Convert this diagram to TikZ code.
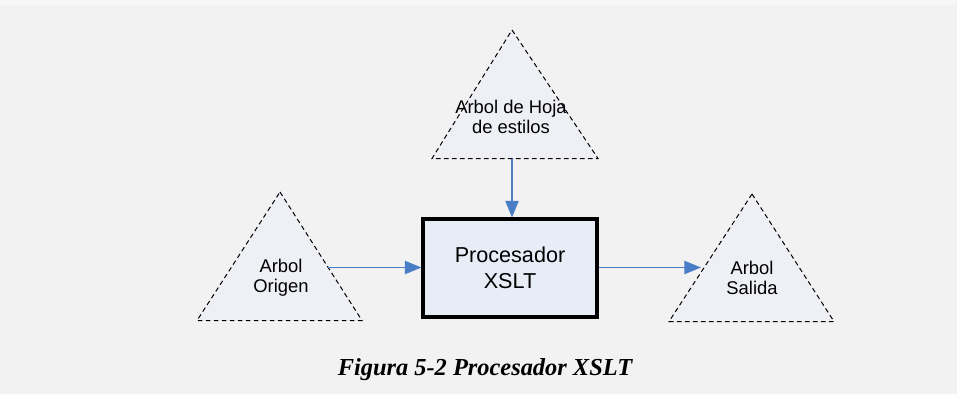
\documentclass[tikz,border=0pt]{standalone}
\usepackage{fontspec}
\setmainfont{Liberation Sans}
\newfontfamily\capfont{Liberation Serif}
\usetikzlibrary{arrows.meta}
\definecolor{pagebg}{HTML}{F2F2F2}
\definecolor{pageedge}{HTML}{F7F7F7}
\definecolor{treefill}{HTML}{EEF0F6}
\definecolor{procfill}{HTML}{E7EDF7}
\definecolor{flowblue}{HTML}{4A7EC6}
\tikzset{
  tree/.style={draw=black, fill=treefill, dashed, dash pattern=on 3.5pt off 2.5pt, line width=0.75pt, line join=miter},
  treelabel/.style={align=center, font=\fontsize{13.8}{15}\selectfont, inner sep=0pt},
  procbox/.style={draw=black, fill=procfill, line width=2.3pt, minimum width=130.5pt, minimum height=73.5pt, inner sep=0pt, align=center, font=\fontsize{16.2}{19.5}\selectfont},
  flow/.style={draw=flowblue, line width=1pt, -{Triangle[length=12.5pt, width=10pt]}}
}
\begin{document}
\begin{tikzpicture}[x=0.75pt, y=-0.75pt]
  % page background
  \useasboundingbox (0,0) rectangle (957,394);
  \fill[pageedge] (0,0) rectangle (957,394);
  \fill[pagebg] (0,5) rectangle (957,394);

  % trees (triangles)
  \draw[tree] (512,30) -- (598,158.5) -- (432,158.5) -- cycle;
  \draw[tree] (280,192) -- (362,320.5) -- (197,320.5) -- cycle;
  \draw[tree] (752,194) -- (834,321.5) -- (669,321.5) -- cycle;

  \node[treelabel] (hoja) at (511,117) {Arbol de Hoja\\de estilos};
  \node[treelabel] (origen) at (281,278) {Arbol\\Origen};
  \node[treelabel] (salida) at (752,278) {Arbol\\Salida};

  % processor box
  \node[procbox] (proc) at (510,268) {Procesador\\XSLT};

  % connector end points on the triangle edges
  \coordinate (hojabase) at (512,158.5);
  \coordinate (origenedge) at (328,267.5);
  \coordinate (salidaedge) at (701,267.5);

  \draw[flow] (hojabase) -- (hojabase |- proc.north);
  \draw[flow] (origenedge) -- (origenedge -| proc.west);
  \draw[flow] (proc.east |- salidaedge) -- (salidaedge);

  % caption
  \node[font=\capfont\bfseries\itshape\fontsize{18.3}{22}\selectfont, inner sep=0pt] (caption) at (485,370) {Figura 5-2 Procesador XSLT};
\end{tikzpicture}
\end{document}
